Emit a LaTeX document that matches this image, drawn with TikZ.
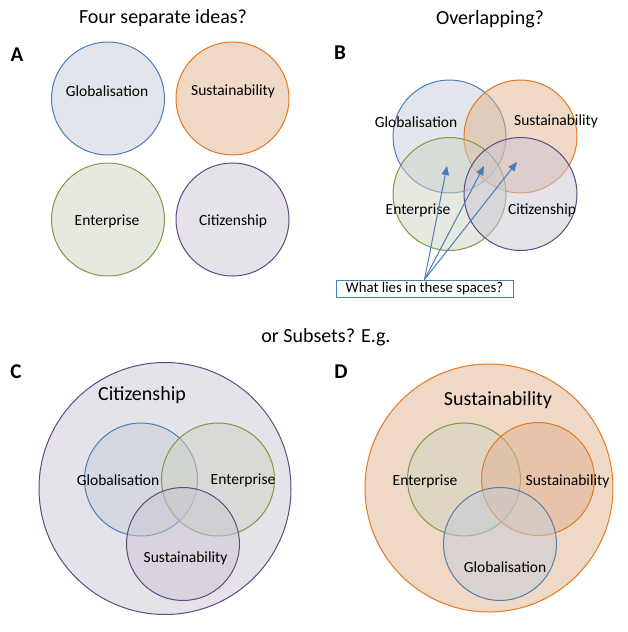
\documentclass[tikz,border=0pt]{standalone}
\usepackage{fontspec}
\setmainfont{Carlito}
\usetikzlibrary{arrows.meta,positioning,calc}

\definecolor{gloline}{HTML}{4A7EBB}
\definecolor{glofill}{HTML}{C5CDD9}
\definecolor{susline}{HTML}{E8781E}
\definecolor{susfill}{HTML}{DFB18D}
\definecolor{entline}{HTML}{7E9B45}
\definecolor{entfill}{HTML}{CDD3C1}
\definecolor{citline}{HTML}{5F4B80}
\definecolor{citfill}{HTML}{CBC5D3}

\begin{document}
\begin{tikzpicture}[
  x=1pt, y=-1pt,
  font=\fontsize{15.5}{18}\selectfont,
  set/.style={circle, draw=#1line, fill=#1fill, fill opacity=0.5, line width=1pt, minimum size=113pt, inner sep=0pt},
  bigset/.style={set=#1, minimum size=252pt},
  title/.style={font=\fontsize{20}{24}\selectfont},
  panel/.style={font=\fontsize{21}{24}\selectfont\bfseries},
  every edge/.style={draw, gloline, line width=1pt, -{Triangle[length=9pt, width=7.5pt]}}
]
  \useasboundingbox (0,0) rectangle (627,632);

  % titles
  \node[title] (tA) at (163,18) {Four separate ideas?};
  \node[title] (tB) at (490,19) {Overlapping?};
  \node[title] (tC) at (326,337) {or Subsets? E.g.};

  % A: four separate
  \node[panel] (pA) at (17,55) {A};
  \node[set=glo] (gloA) at (108,98.5) {};
  \node[set=sus] (susA) at (232.5,98.5) {};
  \node[set=ent] (entA) at (108,219.5) {};
  \node[set=cit] (citA) at (232.5,219.5) {};
  \node at (107,91) {Globalisation};
  \node at (233,91) {Sustainability};
  \node at (107,221) {Enterprise};
  \node at (233,221) {Citizenship};

  % B: overlapping
  \node[panel] (pB) at (340,53) {B};
  \node[set=glo] (gloB) at (449.5,136.5) {};
  \node[set=sus] (susB) at (520.5,136.5) {};
  \node[set=ent] (entB) at (449.5,194) {};
  \node[set=cit] (citB) at (520.5,194) {};
  \node at (416,122) {Globalisation};
  \node at (556,121) {Sustainability};
  \node at (418,210) {Enterprise};
  \node at (542,210) {Citizenship};

  \node[draw=gloline, line width=1pt, minimum width=177pt, minimum height=17pt, inner sep=1pt,
        font=\fontsize{14.8}{16}\selectfont] (ask) at (424.5,288.5) {What lies in these spaces?};
  \coordinate (ge) at (447,166);
  \coordinate (gsec) at (484,166);
  \coordinate (sc) at (517,162);
  \path (ask.north) edge (ge);
  \path (ask.north) edge (gsec);
  \path (ask.north) edge (sc);

  % C: citizenship as superset
  \node[panel] (pC) at (16,372) {C};
  \node[bigset=cit] (citC) at (165,488.5) {};
  \node[set=glo] (gloC) at (141,479.5) {};
  \node[set=ent] (entC) at (218,479.5) {};
  \node[set=cit] (susC) at (183,544) {};
  \node[title] at (142,395) {Citizenship};
  \node at (118,480) {Globalisation};
  \node at (243,480) {Enterprise};
  \node at (185.5,558) {Sustainability};

  % D: sustainability as superset
  \node[panel] (pD) at (341,372) {D};
  \node[bigset=sus, minimum size=248pt] (susD) at (489,488) {};
  \node[set=ent] (entD) at (464,479.5) {};
  \node[set=sus] (sus2D) at (538,479) {};
  \node[set=glo, draw=gloline!70!gray] (gloD) at (500,544) {};
  \node[title] at (498,400) {Sustainability};
  \node at (425,481) {Enterprise};
  \node at (567.5,481) {Sustainability};
  \node at (505,567) {Globalisation};
\end{tikzpicture}
\end{document}
